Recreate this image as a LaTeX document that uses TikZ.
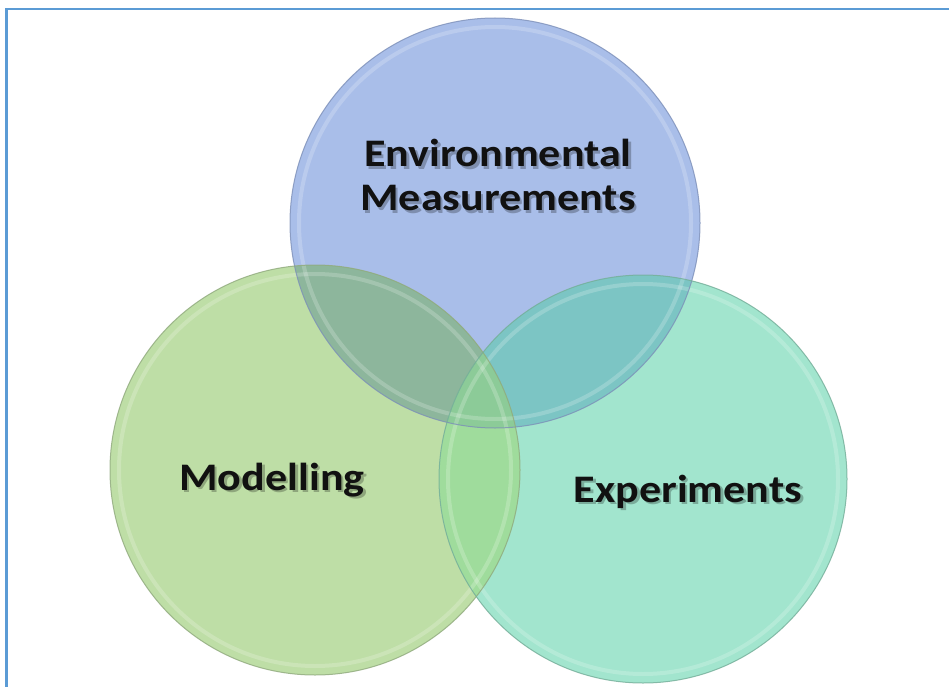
\documentclass[tikz,border=0pt]{standalone}
\usepackage{fontspec}
\setmainfont{Carlito}
\newfontfamily\lblfont{Carlito}[FakeStretch=1.13]
\definecolor{frameBlue}{HTML}{5B9BD5}
\definecolor{cBlue}{HTML}{A9BEE9}
\definecolor{cGreen}{HTML}{BEDEA6}
\definecolor{cTeal}{HTML}{A2E5CE}
\definecolor{cBG}{HTML}{8DB69C}
\definecolor{cBT}{HTML}{7CC5C4}
\definecolor{cGT}{HTML}{9FDC9C}
\definecolor{cBGT}{HTML}{8CCB98}
\definecolor{edgeBlue}{HTML}{7C8FB8}
\definecolor{edgeGreen}{HTML}{8FA97C}
\definecolor{edgeTeal}{HTML}{73AD98}
\definecolor{txt}{HTML}{111111}
\tikzset{
  frameline/.style={draw=frameBlue, line width=2.5pt},
  rim/.style={line width=1pt, opacity=0.8},
  glow/.style={draw=white, line width=4pt, opacity=0.2},
  lbl/.style={font=\lblfont\bfseries\fontsize{39}{44}\selectfont, text=txt, inner sep=0pt, align=center},
  shade1/.style={lbl, text=black, text opacity=0.25},
}
\begin{document}
\begin{tikzpicture}[x=1pt,y=-1pt]
\useasboundingbox (0,0) rectangle (949,687);
\fill[white] (0,0) rectangle (949,687);
\coordinate (fa) at (6.5,687);
\coordinate (fb) at (6.5,9);
\coordinate (fc) at (949,9);
\draw[frameline] (fa) -- (fb) -- (fc);
\coordinate (cB) at (495,223);
\coordinate (cG) at (315,470);
\coordinate (cT) at (643,479);
% base fills
\fill[cBlue] (cB) circle (205pt);
\fill[cGreen] (cG) circle (205pt);
\fill[cTeal] (cT) circle (204pt);
% overlaps
\begin{scope}\clip (cB) circle (205pt); \fill[cBG] (cG) circle (205pt); \end{scope}
\begin{scope}\clip (cB) circle (205pt); \fill[cBT] (cT) circle (204pt); \end{scope}
\begin{scope}\clip (cG) circle (205pt); \fill[cGT] (cT) circle (204pt); \end{scope}
\begin{scope}\clip (cB) circle (205pt); \clip (cG) circle (205pt); \fill[cBGT] (cT) circle (204pt); \end{scope}
% inner highlights
\draw[glow] (cB) circle (196pt);
\draw[glow] (cG) circle (196pt);
\draw[glow] (cT) circle (195pt);
% rims
\draw[rim, edgeBlue] (cB) circle (205pt);
\draw[rim, edgeGreen] (cG) circle (205pt);
\draw[rim, edgeTeal] (cT) circle (204pt);
% labels with shadow
\node[shade1, anchor=center] (envS) at (500.5,177.5) {Environmental\\Measurements};
\node[lbl, anchor=center] (env) at (498,175) {Environmental\\Measurements};
\node[shade1, anchor=base] (modS) at (274.5,492.5) {Modelling};
\node[lbl, anchor=base] (mod) at (272,490) {Modelling};
\node[shade1, anchor=base] (expS) at (690.5,504.5) {Experiments};
\node[lbl, anchor=base] (exp) at (688,502) {Experiments};
\end{tikzpicture}
\end{document}
